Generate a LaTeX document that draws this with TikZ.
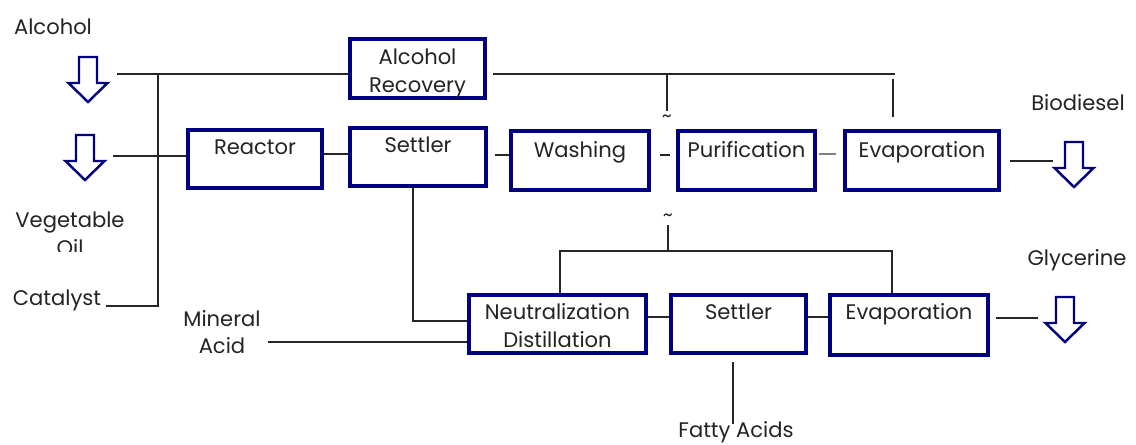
\documentclass[tikz,border=0pt]{standalone}
\usepackage{fontspec}
\setmainfont{Poppins}
\usetikzlibrary{backgrounds}
\definecolor{navy}{RGB}{0,0,128}
\definecolor{ink}{RGB}{35,35,35}
\begin{document}
\begin{tikzpicture}[x=0.02cm, y=-0.02cm,
  box/.style={draw=navy, line width=0.08cm, inner sep=0pt, text height=0.49cm, text depth=0.67cm, font=\fontsize{12}{16.2}\selectfont, text=ink},
  conn/.style={line width=0.7pt, draw=black!85},
  lbl/.style={inner sep=0pt, font=\fontsize{12}{15.8}\selectfont, text=ink, align=center},
  til/.style={inner sep=0pt, font=\fontsize{11}{12}\selectfont, text=ink},
  harrow/.pic={\draw[navy, line width=1.4pt] (-9,0) -- (9,0) -- (9,26) -- (19.5,26) -- (0,45) -- (-19.5,26) -- (-9,26) -- cycle;}
]
\useasboundingbox (0,0) rectangle (1136,444);

% process boxes
\node[box, minimum width=2.70cm, text height=0.51cm] (rec) at (417.5,68.5) {\begin{tabular}[t]{@{}c@{}}Alcohol\\Recovery\end{tabular}};
\node[box, minimum width=2.68cm] (reactor) at (255,159) {Reactor};
\node[box, minimum width=2.72cm] (settler1) at (418,157) {Settler};
\node[box, minimum width=2.76cm, text height=0.53cm, text depth=0.65cm] (washing) at (580,160.5) {Washing};
\node[box, minimum width=2.74cm, text height=0.53cm, text depth=0.65cm] (purif) at (746.5,160.5) {Purification};
\node[box, minimum width=3.08cm, text height=0.53cm, text depth=0.65cm] (evap1) at (922,160.5) {Evaporation};
\node[box, minimum width=3.54cm] (neut) at (557.5,324) {\begin{tabular}[t]{@{}c@{}}Neutralization\\Distillation\end{tabular}};
\node[box, minimum width=2.70cm] (settler2) at (738.5,324) {Settler};
\node[box, minimum width=3.16cm, text depth=0.71cm] (evap2) at (909,325) {Evaporation};

% labels
\node[lbl] (alcohol) at (53,27) {Alcohol};
\begin{scope}
  \clip (0,200) rectangle (150,251);
  \node[lbl] (vegoil) at (70,234) {Vegetable\\Oil};
\end{scope}
\node[lbl] (catalyst) at (57,300) {Catalyst};
\node[lbl] (mineral) at (222,332) {Mineral\\Acid};
\node[lbl] (biodiesel) at (1078,103) {Biodiesel};
\node[lbl] (glycerine) at (1077,260) {Glycerine};
\node[lbl, anchor=base] (fatty) at (736,437) {Fatty Acids};
\node[til] (t1) at (667,119) {\textasciitilde};
\node[til] (t2) at (668,218) {\textasciitilde};

% hollow arrows
\pic (arAlc) at (88,57) {harrow};
\pic (arOil) at (85,135) {harrow};
\pic (arBio) at (1074,142) {harrow};
\pic (arGly) at (1065,297) {harrow};

% connector end points
\coordinate (alcIn) at (117,74);
\coordinate (jTop) at (158,74);
\coordinate (catEnd) at (106,306);
\coordinate (oilIn) at (113,156);
\coordinate (recOut) at (493,74);
\coordinate (topR) at (895,74);
\coordinate (v1) at (667,74);
\coordinate (v1b) at (667,111);
\coordinate (t2b) at (668,225);
\coordinate (e1a) at (893,79);
\coordinate (e1b) at (893,117);
\coordinate (busL) at (560,251);
\coordinate (busR) at (892,251);
\coordinate (s1down) at (413,321);
\coordinate (acidEnd) at (268,342);
\coordinate (bioA) at (1010,161);
\coordinate (bioB) at (1053,161);
\coordinate (glyA) at (996,318);
\coordinate (glyB) at (1038,318);
\coordinate (fa1) at (733,362);
\coordinate (fa2) at (733,424);

\begin{scope}[on background layer]
\draw[conn] (alcIn) -- (alcIn -| rec.west);
\draw[conn] (jTop) |- (catEnd);
\draw[conn] (oilIn) -- (oilIn -| reactor.west);
\draw[conn] (reactor.east |- 0,154) -- (settler1.west |- 0,154);
\draw[conn, shorten <=0.14cm] (settler1.east |- 0,155) -- (washing.west |- 0,155);
\draw[conn, shorten <=0.18cm, shorten >=0.12cm] (washing.east |- 0,155) -- (purif.west |- 0,155);
\draw[conn, draw=gray, shorten <=0.04cm, shorten >=0.14cm] (purif.east |- 0,154) -- (evap1.west |- 0,154);
\draw[conn] (recOut) -- (topR);
\draw[conn] (v1) -- (v1b);
\draw[conn] (e1a) -- (e1b);
\draw[conn] (t2b) -- (t2b |- busL);
\draw[conn] (neut.north -| busL) -- (busL) -- (busR) -- (evap2.north -| busR);
\draw[conn] (settler1.south -| s1down) -- (s1down) -- (s1down -| neut.west);
\draw[conn] (acidEnd) -- (acidEnd -| neut.west);
\draw[conn] (neut.east |- 0,317) -- (settler2.west |- 0,317);
\draw[conn] (settler2.east |- 0,317) -- (evap2.west |- 0,317);
\draw[conn] (bioA) -- (bioB);
\draw[conn] (glyA) -- (glyB);
\draw[conn] (fa1) -- (fa2);
\end{scope}
\end{tikzpicture}
\end{document}
